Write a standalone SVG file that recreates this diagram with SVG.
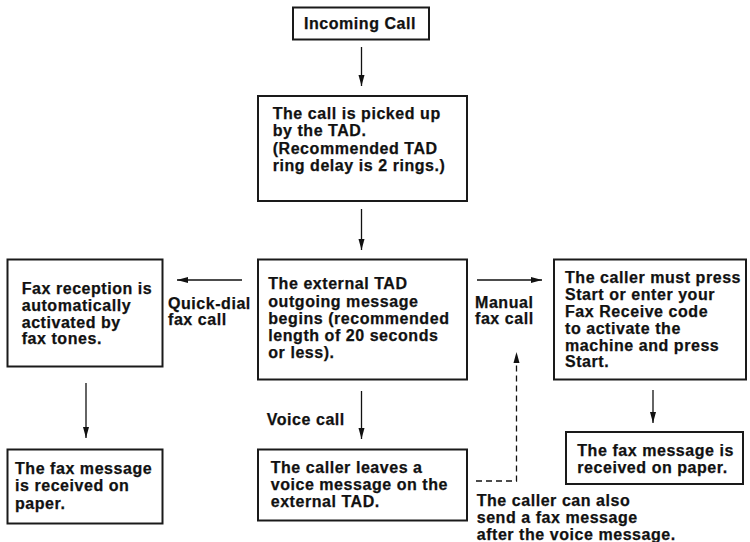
<svg xmlns="http://www.w3.org/2000/svg" width="750" height="542" viewBox="0 0 750 542">
<defs>
<style>
.box{fill:#fff;stroke:#1a1a1a;stroke-width:2}
.t{font-family:"Liberation Sans",Arial,sans-serif;font-weight:bold;font-size:16px;letter-spacing:0.55px;fill:#111;stroke:#111;stroke-width:0.25}
.ln{stroke:#111;stroke-width:1.3;fill:none}
.dash{stroke:#111;stroke-width:1.3;fill:none;stroke-dasharray:6,4}
</style>
<marker id="ah" markerUnits="userSpaceOnUse" markerWidth="12" markerHeight="8" refX="11" refY="4" orient="auto">
<path d="M0,1 L11,4 L0,7 Z" fill="#111"/>
</marker>
</defs>
<rect width="750" height="542" fill="#fff"/>
<g id="connectors">
<line class="ln" x1="361.5" y1="47" x2="361.5" y2="86" marker-end="url(#ah)"/>
<line class="ln" x1="361.5" y1="209" x2="361.5" y2="250" marker-end="url(#ah)"/>
<line class="ln" x1="242" y1="280" x2="177" y2="280" marker-end="url(#ah)"/>
<line class="ln" x1="477" y1="280" x2="542" y2="280" marker-end="url(#ah)"/>
<line class="ln" x1="361.5" y1="391" x2="361.5" y2="439" marker-end="url(#ah)"/>
<line class="ln" x1="86" y1="383" x2="86" y2="438" marker-end="url(#ah)"/>
<line class="ln" x1="653" y1="390" x2="653" y2="423" marker-end="url(#ah)"/>
<path class="dash" d="M476,481 H516.5 V352" marker-end="url(#ah)"/>
<text class="t" x="168" y="309">Quick-dial</text>
<text class="t" x="168" y="325">fax call</text>
<text class="t" x="475" y="308">Manual</text>
<text class="t" x="475" y="324">fax call</text>
<text class="t" x="266.7" y="425">Voice call</text>
<text class="t" x="476.7" y="506">The caller can also</text>
<text class="t" x="476.7" y="523">send a fax message</text>
<text class="t" x="476.7" y="540">after the voice message.</text>
</g>
<g id="incoming">
<rect class="box" x="293" y="7.5" width="136" height="32"/>
<text class="t" x="304" y="29">Incoming Call</text>
</g>
<g id="picked">
<rect class="box" x="258" y="96" width="209" height="105"/>
<text class="t" x="272.7" y="119">The call is picked up</text>
<text class="t" x="272.7" y="136.3">by the TAD.</text>
<text class="t" x="272.7" y="153.5">(Recommended TAD</text>
<text class="t" x="272.7" y="170.7">ring delay is 2 rings.)</text>
</g>
<g id="ogm">
<rect class="box" x="258" y="259.5" width="209" height="120"/>
<text class="t" x="268.3" y="289.3">The external TAD</text>
<text class="t" x="268.3" y="306.6">outgoing message</text>
<text class="t" x="268.3" y="323.9">begins (recommended</text>
<text class="t" x="268.3" y="341.1">length of 20 seconds</text>
<text class="t" x="268.3" y="358.3">or less).</text>
</g>
<g id="faxauto">
<rect class="box" x="7.5" y="259.5" width="155" height="107"/>
<text class="t" x="21.7" y="294">Fax reception is</text>
<text class="t" x="21.7" y="310.8">automatically</text>
<text class="t" x="21.7" y="327.6">activated by</text>
<text class="t" x="21.7" y="344.3">fax tones.</text>
</g>
<g id="manual">
<rect class="box" x="554" y="259.5" width="192" height="120"/>
<text class="t" x="565" y="283.3">The caller must press</text>
<text class="t" x="565" y="300.1">Start or enter your</text>
<text class="t" x="565" y="316.9">Fax Receive code</text>
<text class="t" x="565" y="333.7">to activate the</text>
<text class="t" x="565" y="350.5">machine and press</text>
<text class="t" x="565" y="367.3">Start.</text>
</g>
<g id="paperleft">
<rect class="box" x="7.5" y="449.5" width="155" height="74"/>
<text class="t" x="15" y="474">The fax message</text>
<text class="t" x="15" y="491.3">is received on</text>
<text class="t" x="15" y="508.5">paper.</text>
</g>
<g id="voice">
<rect class="box" x="258" y="449.5" width="209" height="71"/>
<text class="t" x="270.7" y="472.7">The caller leaves a</text>
<text class="t" x="270.7" y="490">voice message on the</text>
<text class="t" x="270.7" y="507.3">external TAD.</text>
</g>
<g id="paperright">
<rect class="box" x="566" y="432" width="177" height="52"/>
<text class="t" x="577.3" y="455.7">The fax message is</text>
<text class="t" x="577.3" y="472.7">received on paper.</text>
</g>
</svg>
